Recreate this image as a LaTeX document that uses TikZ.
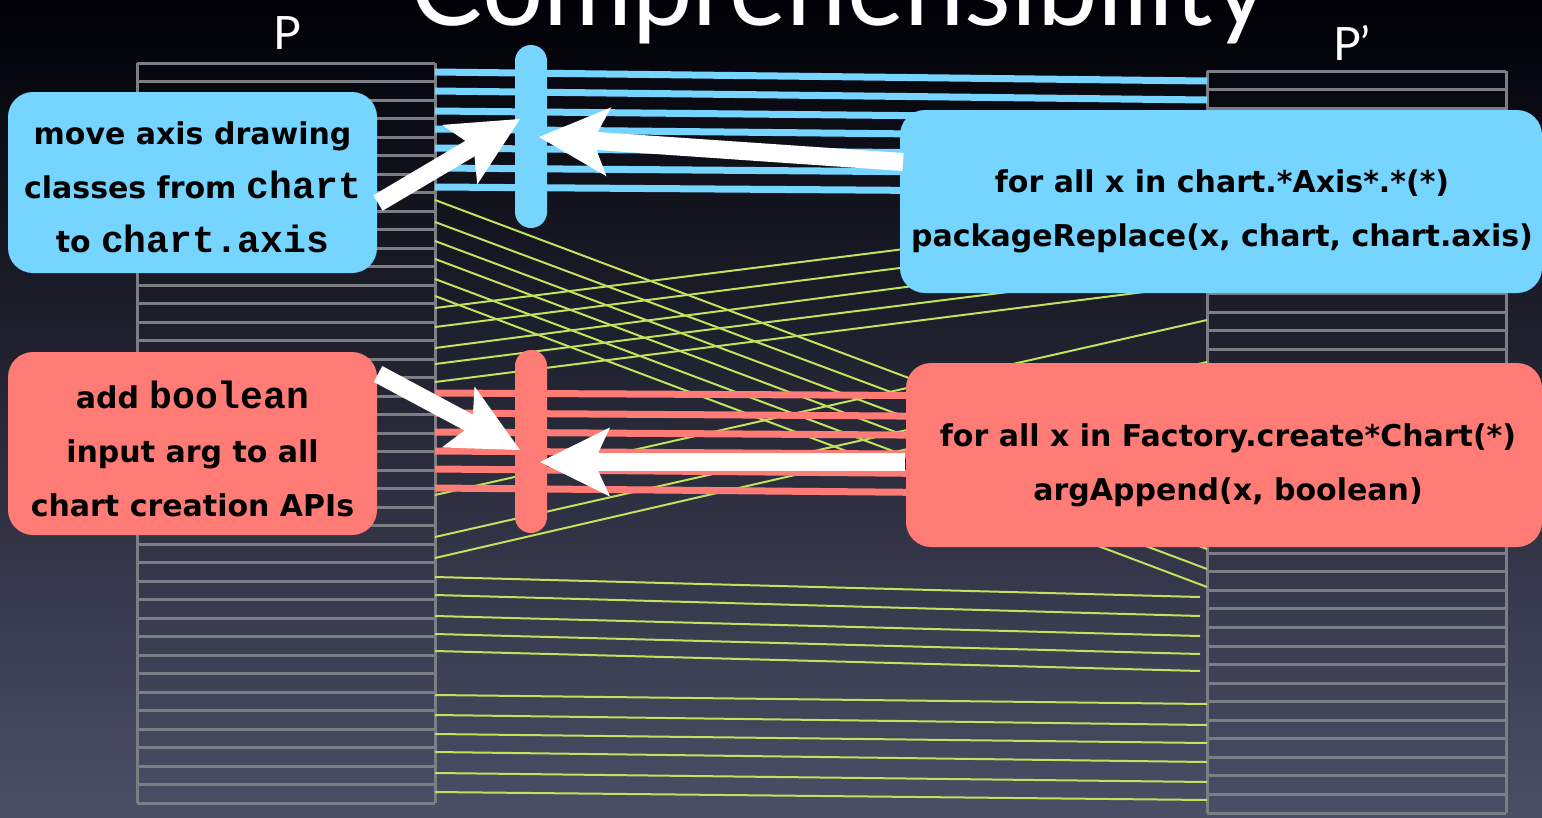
\documentclass[tikz,border=0pt]{standalone}
\usepackage{fontspec}
\setmainfont{DejaVu Sans}
\newfontfamily\titlefont{Lato}
\newfontfamily\monofont{Liberation Mono}
\usetikzlibrary{arrows.meta}
\definecolor{skyb}{RGB}{117,213,255}
\definecolor{salmon}{RGB}{255,123,117}
\definecolor{lime}{RGB}{192,226,92}
\definecolor{gridg}{RGB}{125,125,134}
\definecolor{bgtop}{RGB}{0,0,6}
\definecolor{bgmid}{RGB}{20,20,42}
\definecolor{bgbot}{RGB}{76,78,102}
\newcommand\mc[1]{{\monofont\bfseries\fontsize{38}{54}\selectfont #1}}
\begin{document}
\begin{tikzpicture}[x=1pt,y=-1pt,
  box/.style={rounded corners=25pt, inner sep=0pt},
  boxtext/.style={inner sep=0pt, font=\bfseries\fontsize{30}{54}\selectfont, align=center, text=black},
  barnode/.style={rounded corners=16pt, minimum width=32pt, minimum height=183pt, inner sep=0pt},
  link/.style={line width=7pt},
  fine/.style={lime, line width=2pt},
  gridline/.style={gridg, line width=3pt},
  bigarrow/.style={white, line width=18pt, -{Stealth[length=70pt,width=69pt,inset=16pt,line width=1pt]}},
  ]
\useasboundingbox (0,0) rectangle (1542,817);
\shade[top color=bgtop, middle color=bgmid, bottom color=bgbot] (0,0) rectangle (1542,817);

% title
\begin{scope}
\clip (0,0) rectangle (1542,817);
\node[white, anchor=base, inner sep=0pt, font=\titlefont] (title) at (840,25) {\resizebox{858pt}{!}{Comprehensibility}};
\end{scope}
\node[white, font=\titlefont\fontsize{46}{46}\selectfont] (p) at (287,33) {P};
\node[white, font=\titlefont\fontsize{46}{46}\selectfont] (pp) at (1352,43) {P’};

% columns
\foreach \i in {0,...,40} \draw[gridline] (137,{63+18.5*\i}) -- (435,{63+18.5*\i});
\draw[gridline] (137,63) -- (137,803) (435,63) -- (435,803);
\foreach \i in {0,...,40} \draw[gridline] (1207,{71+18.55*\i}) -- (1506,{71+18.55*\i});
\draw[gridline] (1207,71) -- (1207,813) (1506,71) -- (1506,813);

% green mappings
\foreach \a/\b in {200/490,222/510,241/530,259/549,279/569,296/587,
                   308/211,327/229,348/248,364/267,382/284,
                   495/320,537/362,558/380,
                   695/704,715/725,734/743,752/762,773/782,792/800}
  \draw[fine] (435,\a) -- (1207,\b);
\foreach \a/\b in {577/597,595/616,616/636,634/654,651/671}
  \draw[fine] (435,\a) -- (1200,\b);

% blue and red mappings
\foreach \a/\b in {72/81,91/100,111/118.5,129/137,148/155.5,168/174,187/192.5}
  \draw[link, skyb] (435,\a) -- (1207,\b);
\foreach \a/\b in {393/397,413/418,432/437,451/456,469/476,488/495}
  \draw[link, salmon] (435,\a) -- (1207,\b);

% bars
\node[barnode, fill=skyb] (bbar) at (531,136.5) {};
\node[barnode, fill=salmon] (rbar) at (531,441.5) {};

% boxes
\node[box, fill=skyb, minimum width=369pt, minimum height=181pt] (bl) at (192.5,182.5) {};
\node[boxtext] (blt) at (192.5,187.5) {move axis drawing\\classes from \mc{chart}\\to \mc{chart.axis}};
\node[box, fill=skyb, minimum width=642pt, minimum height=183pt] (br) at (1221,201.5) {};
\node[boxtext] (brt) at (1222,211) {for all x in chart.*Axis*.*(*)\\packageReplace(x, chart, chart.axis)};
\node[box, fill=salmon, minimum width=369pt, minimum height=183pt] (rl) at (192.5,443.5) {};
\node[boxtext] (rlt) at (192.5,448.5) {add \mc{boolean}\\input arg to all\\chart creation APIs};
\node[box, fill=salmon, minimum width=636pt, minimum height=184pt] (rr) at (1224,455) {};
\node[boxtext] (rrt) at (1228,465) {for all x in Factory.create*Chart(*)\\argAppend(x, boolean)};

% arrows
\coordinate (a1s) at (378,203); \coordinate (a1t) at (520,119);
\coordinate (a2s) at (903,162); \coordinate (a2t) at (539,137);
\coordinate (a3s) at (378,374); \coordinate (a3t) at (520,450);
\coordinate (a4s) at (905,462); \coordinate (a4t) at (540,462);
\draw[bigarrow] (a1s) -- (a1t);
\draw[bigarrow] (a2s) -- (a2t);
\draw[bigarrow] (a3s) -- (a3t);
\draw[bigarrow] (a4s) -- (a4t);
\end{tikzpicture}
\end{document}
